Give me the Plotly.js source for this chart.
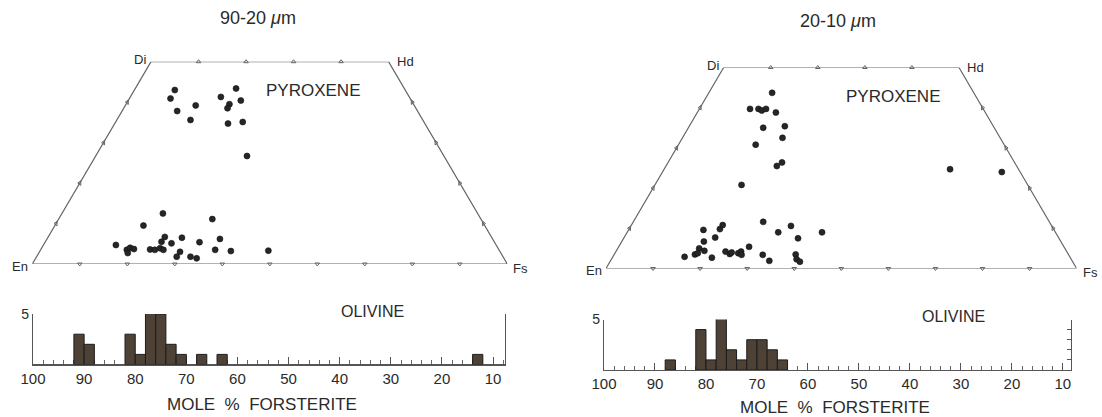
<!DOCTYPE html>
<html><head><meta charset="utf-8">
<script src="https://cdn.plot.ly/plotly-3.0.1.min.js"></script>
<style>html,body{margin:0;padding:0;background:#fff;}#chart{width:1102px;height:417px;}</style>
</head><body><div id="chart"></div>
<script>
// ---- Pyroxene quadrilateral (x: position along En-Fs, 0-100; y: Wo %, 0-50)
const quadX = [0, 25, 75, 100, 0];
const quadY = [0, 50, 50, 0, 0];
const bottomTicks = [10, 20, 30, 40, 50, 60, 70, 80, 90];
const topTicks = [35, 45, 55, 65];
const woTicks = [10, 20, 30, 40];

// 90-20 um fraction pyroxenes
const pyxA = [30.0,29.1,30.5,34.4,33.3,39.7,42.9,41.5,41.1,43.9,41.2,44.3,45.2,
  17.6,23.4,27.5,19.9,20.6,21.4,20.1,24.8,25.8,26.9,27.2,27.9,27.6,29.3,31.5,31.1,30.4,33.3,34.6,35.2,37.9,39.5,38.5,41.8,49.7];
const pyyA = [43.0,40.9,37.8,39.2,35.6,41.3,43.4,39.5,38.5,40.4,34.7,35.1,26.7,
  4.7,9.5,12.5,3.5,4.0,3.7,2.7,3.6,3.5,3.9,5.5,6.7,3.5,5.1,6.5,3.0,1.8,1.8,1.4,5.4,11.1,6.2,3.5,3.2,3.3];

// 20-10 um fraction pyroxenes
const pyxB = [35.3,30.6,32.4,33.1,34.0,36.1,33.4,38.0,37.5,31.8,36.3,37.4,28.8,73.1,84.1,45.9,
  16.7,18.9,19.5,19.8,20.9,20.7,20.8,22.5,23.2,24.2,24.8,25.4,26.3,26.7,28.1,28.7,28.8,30.4,33.4,33.3,34.7,36.6,39.3,40.8,40.3,40.5,41.2];
const pyyB = [43.7,39.7,39.7,39.3,39.7,38.8,35.0,35.4,32.5,30.8,25.5,26.4,20.8,24.7,24.0,9.0,
  2.9,3.5,3.8,5.0,4.4,9.6,6.7,2.7,7.7,9.8,10.8,4.2,3.6,4.0,3.8,4.2,3.4,5.4,11.6,3.4,1.9,9.0,10.6,7.5,3.5,2.3,1.7];

// ---- Olivine histograms (bin centre, mole % Fo; 2% bins)
const foBinsA = [91, 89, 81, 79, 77, 75, 73, 71, 67, 63, 13];
const foCountsA = [3, 2, 3, 1, 6, 5, 2, 1, 1, 1, 1];
const foBinsB = [87, 81, 79, 77, 75, 73, 71, 69, 67, 65];
const foCountsB = [1, 4, 1, 6, 2, 1, 3, 3, 2, 1];
const foTickVals = [100, 90, 80, 70, 60, 50, 40, 30, 20, 10];
const countRightTicks = [1, 2, 3, 4, 5];

const FONT = 'Liberation Sans, Arial, sans-serif';
const INK = '#2a2a2a';
const LINE = '#666';
const DOT = '#262626';
const BAR = '#4e4236';

function quadTraces(xa, ya, px, py) {
  const tr = [];
  tr.push({x: quadX, y: quadY, xaxis: xa, yaxis: ya, mode: 'lines', type: 'scatter',
    line: {color: LINE, width: 1.2}, hoverinfo: 'skip', cliponaxis: false});
  tr.push({x: bottomTicks, y: bottomTicks.map(() => 0), xaxis: xa, yaxis: ya, mode: 'markers', type: 'scatter',
    marker: {symbol: 'triangle-down-open', size: 4, color: LINE, line: {width: 1, color: LINE}}, hoverinfo: 'skip', cliponaxis: false});
  tr.push({x: topTicks, y: topTicks.map(() => 50), xaxis: xa, yaxis: ya, mode: 'markers', type: 'scatter',
    marker: {symbol: 'triangle-up-open', size: 4, color: LINE, line: {width: 1, color: LINE}}, hoverinfo: 'skip', cliponaxis: false});
  tr.push({x: woTicks.map(w => w / 2), y: woTicks, xaxis: xa, yaxis: ya, mode: 'markers', type: 'scatter',
    marker: {symbol: 'triangle-left-open', size: 4, color: LINE, line: {width: 1, color: LINE}}, hoverinfo: 'skip', cliponaxis: false});
  tr.push({x: woTicks.map(w => 100 - w / 2), y: woTicks, xaxis: xa, yaxis: ya, mode: 'markers', type: 'scatter',
    marker: {symbol: 'triangle-right-open', size: 4, color: LINE, line: {width: 1, color: LINE}}, hoverinfo: 'skip', cliponaxis: false});
  tr.push({x: px, y: py, xaxis: xa, yaxis: ya, mode: 'markers', type: 'scatter',
    marker: {symbol: 'circle', size: 6, color: DOT, line: {width: 0.6, color: '#111'}}, cliponaxis: false});
  return tr;
}

const data = [
  ...quadTraces('x', 'y', pyxA, pyyA),
  ...quadTraces('x2', 'y2', pyxB, pyyB),
  {type: 'bar', x: foBinsA, y: foCountsA, width: 2, xaxis: 'x3', yaxis: 'y3', cliponaxis: false,
    marker: {color: BAR, line: {color: '#1c1c1c', width: 1}}},
  {type: 'bar', x: foBinsB, y: foCountsB, width: 2, xaxis: 'x4', yaxis: 'y4', cliponaxis: false,
    marker: {color: BAR, line: {color: '#1c1c1c', width: 1}}},
  {type: 'scatter', x: [], y: [], xaxis: 'x4', yaxis: 'y5', mode: 'markers', hoverinfo: 'skip'}
];

const hidden = {visible: false, fixedrange: true};
function histX(domain, range, anchor) {
  return {domain: domain, range: range, anchor: anchor, showline: true, linecolor: '#555', linewidth: 1.2,
    showgrid: false, zeroline: false, ticks: 'inside', ticklen: 7, tickcolor: '#555', tickwidth: 1,
    tickmode: 'array', tickvals: foTickVals, ticktext: foTickVals.map(String),
    minor: {ticks: 'inside', dtick: 2, tick0: 0, ticklen: 4, tickcolor: '#666', tickwidth: 1, showgrid: false},
    tickfont: {family: FONT, size: 15, color: INK}, layer: 'below traces', fixedrange: true};
}
function histY(domain, anchor, tickLen) {
  return {domain: domain, range: [0, 5], anchor: anchor, showline: true, linecolor: '#555', linewidth: 1.2,
    showgrid: false, zeroline: false, tickmode: 'array', tickvals: [5], ticktext: ['5'],
    ticks: tickLen ? 'inside' : '', ticklen: tickLen, tickcolor: '#555',
    tickfont: {family: FONT, size: 14, color: INK}, mirror: tickLen ? false : true, layer: 'below traces', fixedrange: true};
}

const ann = [];
function addText(text, x, y, xref, yref, size, xanchor, extra) {
  ann.push(Object.assign({text: text, x: x, y: y, xref: xref, yref: yref, showarrow: false,
    xanchor: xanchor || 'center', yanchor: 'middle', font: {family: FONT, size: size, color: INK}}, extra || {}));
}
// titles
addText('90-20 <i>μ</i>m', 0.2341, 0.957, 'paper', 'paper', 18);
addText('20-10 <i>μ</i>m', 0.7604, 0.950, 'paper', 'paper', 18);
// pyroxene labels
addText('PYROXENE', 59.1, 43.0, 'x', 'y', 17);
addText('PYROXENE', 61.0, 42.7, 'x2', 'y2', 17);
[['x', 'y'], ['x2', 'y2']].forEach(([xr, yr]) => {
  addText('Di', quadX[1], quadY[1], xr, yr, 13, 'right', {xshift: -3, yshift: 2});
  addText('Hd', quadX[2], quadY[2], xr, yr, 13, 'left', {xshift: 6});
  addText('En', quadX[0], quadY[0], xr, yr, 13, 'right', {xshift: -2, yshift: -2});
  addText('Fs', quadX[3], quadY[3], xr, yr, 13, 'left', {xshift: 4, yshift: -4});
});
// olivine
addText('OLIVINE', 0.3376, 0.2518, 'paper', 'paper', 16);
addText('OLIVINE', 0.8648, 0.2422, 'paper', 'paper', 16);
addText('MOLE  %  FORSTERITE', 0.2377, 0.0288, 'paper', 'paper', 17);
addText('MOLE  %  FORSTERITE', 0.7577, 0.0216, 'paper', 'paper', 17);

const layout = {
  width: 1102, height: 417, autosize: false,
  margin: {l: 0, r: 0, t: 0, b: 0, pad: 0},
  paper_bgcolor: '#fff', plot_bgcolor: 'rgba(0,0,0,0)',
  showlegend: false, bargap: 0,
  font: {family: FONT, color: INK},
  xaxis: Object.assign({domain: [0.02931, 0.46034], range: [0, 100], anchor: 'y'}, hidden),
  yaxis: Object.assign({domain: [0.3669, 0.8520], range: [0, 50], anchor: 'x'}, hidden),
  xaxis2: Object.assign({domain: [0.5499, 0.9770], range: [0, 100], anchor: 'y2'}, hidden),
  yaxis2: Object.assign({domain: [0.3561, 0.8381], range: [0, 50], anchor: 'x2'}, hidden),
  xaxis3: histX([0.02995, 0.4583], [100, 7.65], 'y3'),
  yaxis3: histY([0.1259, 0.2470], 'x3', 0),
  xaxis4: histX([0.5481, 0.9719], [100, 8.4], 'y4'),
  yaxis4: histY([0.1127, 0.2338], 'x4', 4),
  yaxis5: {overlaying: 'y4', side: 'right', anchor: 'x4', range: [0, 5], showline: true, linecolor: '#555', linewidth: 1.2,
    showgrid: false, zeroline: false, tickmode: 'array', tickvals: countRightTicks, ticks: 'inside', ticklen: 4,
    tickcolor: '#555', showticklabels: false, fixedrange: true},
  annotations: ann
};

Plotly.newPlot('chart', data, layout, {staticPlot: true, displayModeBar: false});
</script>
</body></html>
